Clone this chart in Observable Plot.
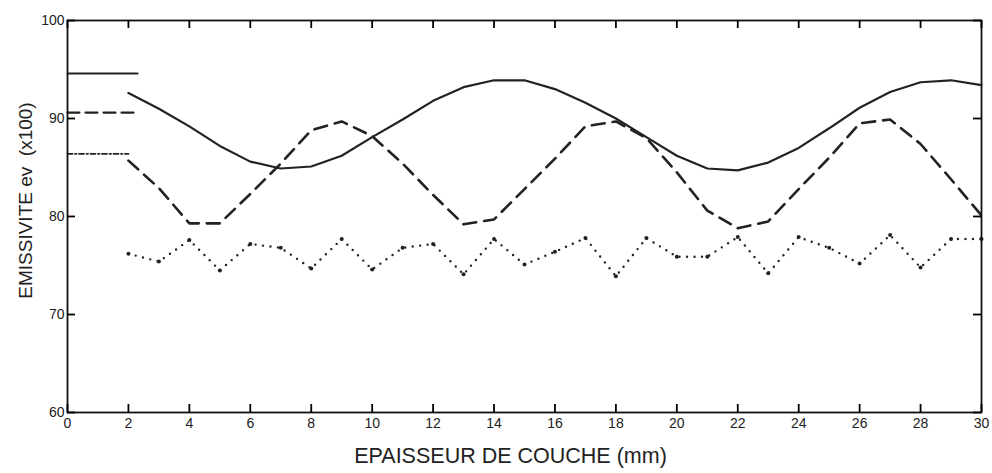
<!DOCTYPE html>
<html>
<head>
<meta charset="utf-8">
<script src="https://cdn.jsdelivr.net/npm/d3@7"></script>
<script src="https://cdn.jsdelivr.net/npm/@observablehq/plot@0.6"></script>
<style>
  html, body { margin: 0; padding: 0; background: #fff; }
</style>
</head>
<body>
<div id="chart"></div>
<script>
// Layer thickness (mm)
const thickness = [2,3,4,5,6,7,8,9,10,11,12,13,14,15,16,17,18,19,20,21,22,23,24,25,26,27,28,29,30];
// Emissivity series (x100)
const solidSeries  = [92.6,91.0,89.2,87.2,85.6,84.9,85.1,86.2,88.1,89.9,91.8,93.2,93.9,93.9,93.0,91.6,90.0,88.1,86.2,84.9,84.7,85.5,87.0,89.0,91.1,92.7,93.7,93.9,93.4];
const dashedSeries = [85.7,82.9,79.3,79.3,82.3,85.4,88.8,89.7,88.2,85.4,82.2,79.2,79.7,82.8,85.9,89.2,89.7,88.0,84.5,80.6,78.8,79.5,82.8,86.0,89.5,89.9,87.4,83.8,80.1];
const dottedSeries = [76.2,75.4,77.6,74.5,77.2,76.8,74.7,77.7,74.6,76.8,77.2,74.1,77.7,75.1,76.4,77.8,73.9,77.8,75.9,75.9,77.9,74.2,77.9,76.8,75.2,78.1,74.8,77.7,77.7];
// Short reference segments at the left (start/end thickness and level)
const refSolidX  = [0, 2.3];  const refSolidY  = 94.6;
const refDashedX = [0, 2.2];  const refDashedY = 90.6;
const refDottedX = [0, 2.0];  const refDottedY = 86.4;
// Domains / ticks
const xDomain = [0, 30];
const yDomain = [60, 100];
const xTicks = [0,2,4,6,8,10,12,14,16,18,20,22,24,26,28,30];
const yTicks = [60,70,80,90,100];
const xTitle = "EPAISSEUR DE COUCHE (mm)";
const yTitle = "EMISSIVITE ev\u00a0\u00a0(x100)";

const mk = (ys) => thickness.map((x, i) => ({x, y: ys[i]}));
const solidData = mk(solidSeries);
const dashedData = mk(dashedSeries);
const dottedData = mk(dottedSeries);
const seg = (xs, y) => xs.map(x => ({x, y}));

const ink = "#222";
const W = 992, H = 473, mL = 67, mR = 11, mT = 20, mB = 61;
const tickLen = 8;
const innerW = W - mL - mR, innerH = H - mT - mB;
// inward tick length expressed in data units along each axis
const tdy = tickLen / innerH * (yDomain[1] - yDomain[0]);
const tdx = tickLen / innerW * (xDomain[1] - xDomain[0]);

const chart = Plot.plot({
  width: W,
  height: H,
  marginLeft: mL,
  marginRight: mR,
  marginTop: mT,
  marginBottom: mB,
  style: {fontFamily: "'Liberation Sans', Arial, sans-serif"},
  x: {domain: xDomain},
  y: {domain: yDomain},
  marks: [
    Plot.line(seg(refSolidX, refSolidY), {x: "x", y: "y", stroke: ink, strokeWidth: 2}),
    Plot.line(seg(refDashedX, refDashedY), {x: "x", y: "y", stroke: ink, strokeWidth: 2.2, strokeDasharray: "12,6"}),
    Plot.line(seg(refDottedX, refDottedY), {x: "x", y: "y", stroke: ink, strokeWidth: 1.8, strokeDasharray: "5,2.5,1.5,2.5"}),
    Plot.line(solidData, {x: "x", y: "y", stroke: ink, strokeWidth: 2.2, strokeLinejoin: "round"}),
    Plot.line(dashedData, {x: "x", y: "y", stroke: ink, strokeWidth: 2.6, strokeDasharray: "13,8"}),
    Plot.line(dottedData, {x: "x", y: "y", stroke: ink, strokeWidth: 2.4, strokeDasharray: "0,7.5", strokeLinecap: "round"}),
    Plot.dot(dottedData, {x: "x", y: "y", r: 2, fill: ink}),
    Plot.frame({stroke: "#111", strokeWidth: 1.8}),
    // inward tick marks on all four sides
    Plot.ruleX(xTicks, {x: d => d, y1: yDomain[0], y2: yDomain[0] + tdy, stroke: "#000", strokeWidth: 1.8}),
    Plot.ruleX(xTicks, {x: d => d, y1: yDomain[1], y2: yDomain[1] - tdy, stroke: "#000", strokeWidth: 1.8}),
    Plot.ruleY(yTicks, {y: d => d, x1: xDomain[0], x2: xDomain[0] + tdx, stroke: "#000", strokeWidth: 1.8}),
    Plot.ruleY(yTicks, {y: d => d, x1: xDomain[1], x2: xDomain[1] - tdx, stroke: "#000", strokeWidth: 1.8}),
    Plot.axisX({ticks: xTicks, tickSize: 0, tickPadding: 6, fontSize: 14, label: null, fill: ink}),
    Plot.axisY({ticks: yTicks, tickSize: 0, tickPadding: 3, fontSize: 14, label: null, fill: ink}),
    Plot.text([xTitle], {text: d => d, frameAnchor: "bottom", dy: 50, dx: -14, fontSize: 21.5, fill: ink}),
    Plot.text([yTitle], {text: d => d, frameAnchor: "left", textAnchor: "middle", dx: -42, dy: -16, rotate: -90, fontSize: 19, fill: ink})
  ]
});
document.getElementById("chart").appendChild(chart);
</script>
</body>
</html>
